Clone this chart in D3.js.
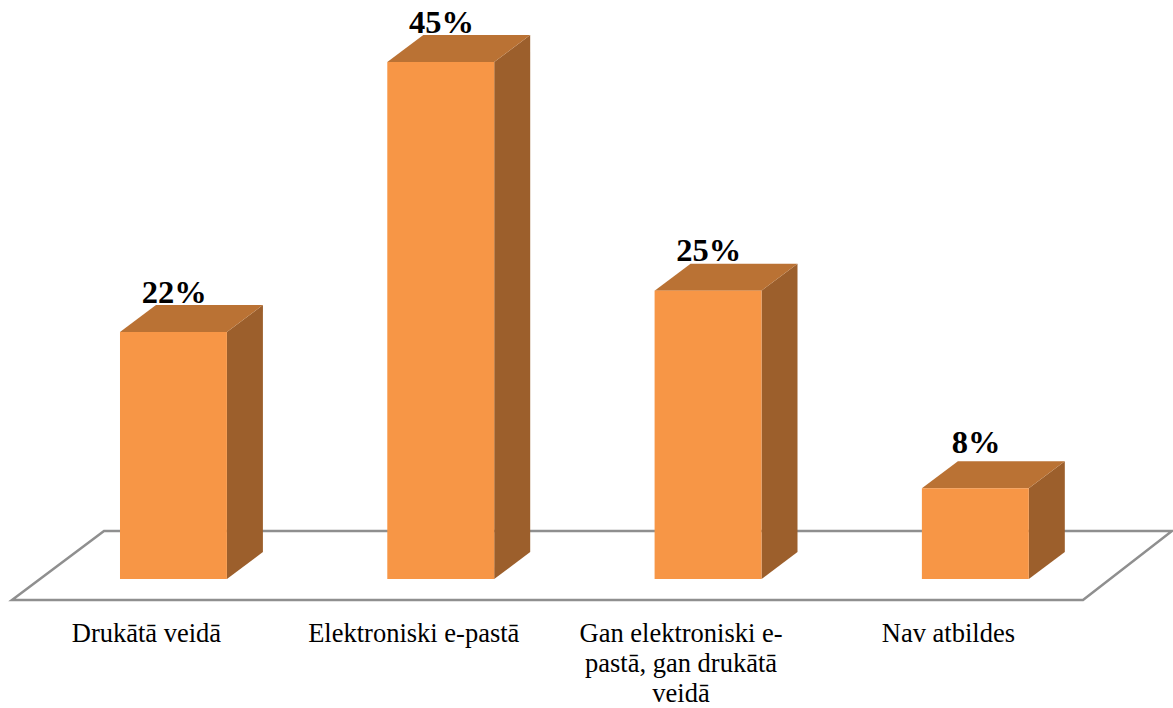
<!DOCTYPE html>
<html>
<head>
<meta charset="utf-8">
<script src="https://cdn.jsdelivr.net/npm/d3@7"></script>
<style>
  html, body { margin: 0; padding: 0; background: #fff; overflow: hidden; }
  text { font-family: "Liberation Serif", serif; fill: #000; }
</style>
</head>
<body>
<div id="chart"></div>
<script>

  // values, labels as printed on the chart
  var categories = ["Drukātā veidā", "Elektroniski e-pastā", "Gan elektroniski e-pastā, gan drukātā veidā", "Nav atbildes"];
  var values = [21.5, 45, 25.1, 7.9];
  var valueLabels = ["22%", "45%", "25%", "8%"];
  var categoryLines = [
    ["Drukātā veidā"],
    ["Elektroniski e-pastā"],
    ["Gan elektroniski e-", "pastā, gan drukātā", "veidā"],
    ["Nav atbildes"]
  ];

  var width = 1173,
      height = 708,
      baseY = 579,
      depthX = 36,
      depthY = 27;

  var svg = d3.select("#chart")
    .append("svg")
    .attr("width", width)
    .attr("height", height);

  var x = d3.scaleBand()
    .domain(categories)
    .range([39.8, 1109])
    .paddingInner(0.6)
    .paddingOuter(0.3);

  var y = d3.scaleLinear()
    .domain([0, 45])
    .range([baseY, 62]);

  // floor
  svg.append("path")
    .attr("d", "M12,600 L1083,600 L1172,531 L104,531 Z")
    .attr("fill", "#fff")
    .attr("stroke", "#8f8f8f")
    .attr("stroke-width", 2.5);

  var data = categories.map(function(c, i) {
    return { category: c, value: values[i], label: valueLabels[i], lines: categoryLines[i] };
  });

  var bars = svg.append("g")
    .selectAll("g")
    .data(data)
    .enter()
    .append("g");

  // side face
  bars.append("path")
    .attr("fill", "#9c5f2c")
    .attr("d", function(d) {
      var r = x(d.category) + x.bandwidth(), t = y(d.value);
      return `M${r},${t} L${r + depthX},${t - depthY} L${r + depthX},${baseY - depthY} L${r},${baseY} Z`;
    });

  // top face
  bars.append("path")
    .attr("fill", "#ba7234")
    .attr("d", function(d) {
      var l = x(d.category), r = l + x.bandwidth(), t = y(d.value);
      return `M${l},${t} L${l + depthX},${t - depthY} L${r + depthX},${t - depthY} L${r},${t} Z`;
    });

  // front face
  bars.append("rect")
    .attr("fill", "#f79646")
    .attr("x", function(d) { return x(d.category); })
    .attr("y", function(d) { return y(d.value); })
    .attr("width", x.bandwidth())
    .attr("height", function(d) { return baseY - y(d.value); });

  // value labels
  var labelGap = [1.5, 2, 3, 8];

  bars.append("text")
    .attr("x", function(d) { return x(d.category) + x.bandwidth() / 2 + 0.7; })
    .attr("y", function(d, i) { return y(d.value) - depthY - labelGap[i]; })
    .attr("text-anchor", "middle")
    .attr("font-size", 32.5)
    .attr("font-weight", "bold")
    .text(function(d) { return d.label; });

  // category labels, the axis sits left of the bars like in the 3d projection
  var axis = svg.append("g")
    .attr("transform", "translate(-27, 621)")
    .call(d3.axisBottom(x).tickSize(0).tickPadding(0).tickFormat(""));

  axis.select(".domain").remove();

  axis.selectAll(".tick text")
    .attr("y", 0)
    .attr("dy", null)
    .attr("font-size", 26.5)
    .attr("text-anchor", "middle")
    .style("font-family", "'Liberation Serif', serif")
    .each(function(c) {
      var lines = categoryLines[categories.indexOf(c)];
      var el = d3.select(this);
      lines.forEach(function(line, i) {
        el.append("tspan")
          .attr("x", 0)
          .attr("y", 21 + i * 30)
          .text(line);
      });
    });

</script>
</body>
</html>
